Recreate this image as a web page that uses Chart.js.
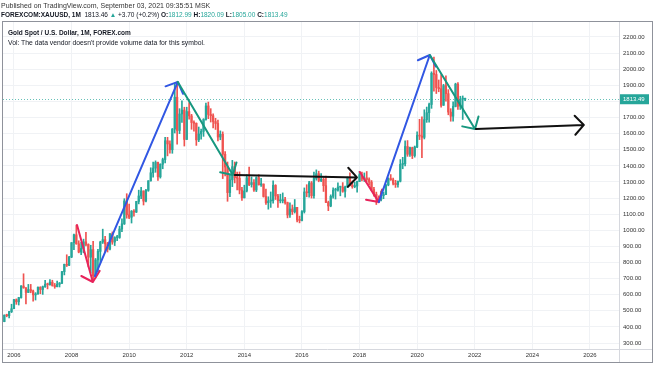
<!DOCTYPE html>
<html>
<head>
<meta charset="utf-8">
<script src="https://cdn.jsdelivr.net/npm/chart.js@4.4.1/dist/chart.umd.min.js"></script>
<style>
  html, body { margin: 0; padding: 0; background: #fff; }
  #wrap { position: relative; width: 654px; height: 366px; overflow: hidden; font-family: "Liberation Sans", Arial, sans-serif; color: #131722; }
  canvas { position: absolute; left: 0; top: 0; }
  .hdr { position: absolute; white-space: nowrap; }
  #pub { left: 1px; top: 2px; font-size: 7px; color: #333; }
  #sym { left: 1px; top: 11px; font-size: 6.5px; }
  #legend { left: 8px; top: 28px; font-size: 6.8px; line-height: 10px; }
  #legend b { font-size: 6.5px; }
  .up { color: #26a69a; }
</style>
</head>
<body>
<div id="wrap">
  <canvas id="chart" width="654" height="366"></canvas>
  <div class="hdr" id="pub">Published on TradingView.com, September 03, 2021 09:35:51 MSK</div>
  <div class="hdr" id="sym"><b>FOREXCOM:XAUUSD, 1M</b>&nbsp; 1813.46 <span class="up">▲</span> +3.70 (+0.2%) <b>O:</b><span class="up">1812.99</span> <b>H:</b><span class="up">1820.09</span> <b>L:</b><span class="up">1805.00</span> <b>C:</b><span class="up">1813.49</span></div>
  <div class="hdr" id="legend"><b>Gold Spot / U.S. Dollar, 1M, FOREX.com</b><br>Vol: The data vendor doesn't provide volume data for this symbol.</div>
</div>
<script>
// monthly candles, first one is Sep 2005
const startYear = 2005;
const startMonth = 9;

const opens = [
  433, 473, 470, 495,
  513, 569, 556, 582, 654, 643, 614, 632, 623, 599, 604, 646,
  632, 650, 665, 662, 678, 657, 650, 665, 672, 743, 789, 783,
  834, 923, 972, 916, 865, 887, 928, 912, 833, 880, 718, 816,
  869, 927, 942, 916, 883, 979, 927, 955, 955, 1008, 1040, 1182,
  1096, 1081, 1118, 1113, 1179, 1213, 1244, 1181, 1248, 1307, 1357, 1386,
  1421, 1332, 1410, 1439, 1556, 1536, 1500, 1628, 1826, 1620, 1722, 1746,
  1564, 1737, 1710, 1669, 1664, 1561, 1598, 1614, 1688, 1772, 1719, 1711,
  1675, 1663, 1579, 1596, 1472, 1393, 1234, 1313, 1395, 1327, 1323, 1250,
  1202, 1244, 1326, 1284, 1296, 1250, 1327, 1282, 1287, 1210, 1171, 1182,
  1184, 1279, 1213, 1183, 1183, 1190, 1172, 1095, 1132, 1115, 1142, 1064,
  1061, 1116, 1238, 1233, 1294, 1215, 1322, 1351, 1309, 1316, 1277, 1173,
  1151, 1211, 1249, 1249, 1268, 1268, 1242, 1269, 1322, 1280, 1271, 1275,
  1303, 1345, 1318, 1325, 1315, 1299, 1253, 1224, 1201, 1192, 1215, 1222,
  1282, 1321, 1313, 1292, 1284, 1305, 1409, 1413, 1520, 1472, 1513, 1464,
  1517, 1589, 1585, 1577, 1687, 1730, 1781, 1975, 1967, 1886, 1879, 1776,
  1898, 1848, 1734, 1708, 1769, 1907, 1770, 1814, 1812.99
];
const highs = [
  475, 479, 497, 541,
  571, 574, 584, 656, 730, 645, 664, 664, 628, 613, 649, 650,
  654, 690, 672, 694, 690, 670, 684, 676, 745, 790, 848, 838,
  924, 976, 1032, 935, 925, 945, 988, 916, 907, 932, 825, 882,
  932, 1007, 962, 925, 980, 990, 960, 969, 1025, 1071, 1196, 1227,
  1162, 1123, 1128, 1180, 1249, 1266, 1245, 1254, 1308, 1388, 1424, 1431,
  1424, 1413, 1448, 1577, 1577, 1556, 1632, 1913, 1921, 1755, 1803, 1764,
  1764, 1792, 1720, 1679, 1667, 1641, 1628, 1693, 1790, 1796, 1755, 1723,
  1695, 1684, 1617, 1611, 1488, 1424, 1348, 1434, 1424, 1361, 1362, 1267,
  1280, 1345, 1392, 1331, 1315, 1332, 1345, 1323, 1288, 1255, 1208, 1238,
  1307, 1283, 1223, 1224, 1232, 1205, 1175, 1170, 1157, 1191, 1142, 1088,
  1123, 1263, 1283, 1304, 1303, 1362, 1375, 1367, 1352, 1326, 1337, 1181,
  1220, 1264, 1261, 1295, 1270, 1296, 1274, 1331, 1357, 1306, 1299, 1306,
  1366, 1362, 1356, 1365, 1326, 1309, 1266, 1237, 1214, 1243, 1237, 1284,
  1326, 1346, 1324, 1310, 1306, 1439, 1453, 1555, 1557, 1517, 1516, 1523,
  1611, 1689, 1704, 1748, 1765, 1789, 1984, 2075, 1992, 1933, 1966, 1906,
  1959, 1873, 1755, 1798, 1913, 1917, 1832, 1834, 1820.09
];
const lows = [
  432, 463, 456, 489,
  513, 540, 536, 578, 640, 543, 613, 612, 560, 567, 604, 606,
  602, 645, 636, 660, 653, 640, 648, 648, 668, 723, 775, 780,
  830, 880, 913, 860, 849, 860, 903, 773, 735, 681, 705, 740,
  800, 918, 866, 865, 878, 913, 905, 935, 950, 992, 1036, 1075,
  1072, 1045, 1087, 1110, 1164, 1196, 1157, 1176, 1242, 1305, 1330, 1360,
  1309, 1324, 1382, 1418, 1462, 1478, 1478, 1604, 1535, 1600, 1670, 1523,
  1563, 1689, 1627, 1615, 1527, 1550, 1565, 1583, 1684, 1693, 1672, 1636,
  1626, 1555, 1562, 1321, 1338, 1180, 1208, 1271, 1294, 1251, 1226, 1185,
  1200, 1238, 1277, 1268, 1241, 1240, 1281, 1273, 1206, 1160, 1131, 1142,
  1168, 1191, 1142, 1170, 1170, 1162, 1077, 1080, 1098, 1107, 1052, 1046,
  1058, 1107, 1208, 1205, 1200, 1200, 1311, 1301, 1302, 1241, 1171, 1122,
  1146, 1200, 1194, 1243, 1214, 1236, 1205, 1265, 1276, 1261, 1264, 1237,
  1302, 1307, 1303, 1302, 1282, 1246, 1211, 1160, 1180, 1182, 1196, 1221,
  1276, 1310, 1281, 1266, 1267, 1300, 1382, 1400, 1459, 1459, 1445, 1454,
  1513, 1563, 1451, 1567, 1670, 1671, 1757, 1863, 1849, 1860, 1765, 1775,
  1802, 1717, 1677, 1678, 1766, 1751, 1750, 1688, 1805.00
];
const closes = [
  473, 470, 495, 513,
  569, 556, 582, 654, 643, 614, 632, 623, 599, 604, 646, 632,
  650, 665, 662, 678, 657, 650, 665, 672, 743, 789, 783, 834,
  923, 972, 916, 865, 887, 928, 912, 833, 880, 718, 816, 869,
  927, 942, 916, 883, 979, 927, 955, 955, 1008, 1040, 1182, 1096,
  1081, 1118, 1113, 1179, 1213, 1244, 1181, 1248, 1307, 1357, 1386, 1421,
  1332, 1410, 1439, 1556, 1536, 1500, 1628, 1826, 1620, 1722, 1746, 1564,
  1737, 1710, 1669, 1664, 1561, 1598, 1614, 1688, 1772, 1719, 1711, 1675,
  1663, 1579, 1596, 1472, 1393, 1234, 1313, 1395, 1327, 1323, 1250, 1202,
  1244, 1326, 1284, 1296, 1250, 1327, 1282, 1287, 1210, 1171, 1182, 1184,
  1279, 1213, 1183, 1183, 1190, 1172, 1095, 1132, 1115, 1142, 1064, 1061,
  1116, 1238, 1233, 1294, 1215, 1322, 1351, 1309, 1316, 1277, 1173, 1151,
  1211, 1249, 1249, 1268, 1268, 1242, 1269, 1322, 1280, 1271, 1275, 1303,
  1345, 1318, 1325, 1315, 1299, 1253, 1224, 1201, 1192, 1215, 1222, 1282,
  1321, 1313, 1292, 1284, 1305, 1409, 1413, 1520, 1472, 1513, 1464, 1517,
  1589, 1585, 1577, 1687, 1730, 1781, 1975, 1967, 1886, 1879, 1776, 1898,
  1848, 1734, 1708, 1769, 1907, 1770, 1814, 1814, 1813.49
];

const lastPrice = 1813.49;
const yearTicks = [2006, 2008, 2010, 2012, 2014, 2016, 2018, 2020, 2022, 2024, 2026];
const priceTicks = [300, 400, 500, 600, 700, 800, 900, 1000, 1100, 1200, 1300, 1400, 1500, 1600, 1700, 1800, 1900, 2000, 2100, 2200];

// hand drawn arrows, [year, price] pairs
const arrowStarts = [[2008.19, 1033], [2008.81, 716], [2011.69, 1921], [2013.67, 1343], [2018.01, 1362], [2018.67, 1175], [2020.44, 2088], [2022.04, 1629]];
const arrowEnds   = [[2008.74, 679], [2011.69, 1921], [2013.60, 1343], [2017.91, 1328], [2018.67, 1175], [2020.44, 2088], [2022.01, 1629], [2025.79, 1654]];
const arrowColors = ['#e8245b', '#3157e3', '#17977f', '#111111', '#e8245b', '#3157e3', '#17977f', '#111111'];

const UP = '#26a69a';
const DOWN = '#ef5350';

const xs = closes.map((c, i) => startYear + (startMonth - 1 + i) / 12);
const candleColor = ctx => closes[ctx.dataIndex] >= opens[ctx.dataIndex] ? UP : DOWN;

const arrowsPlugin = {
  id: 'arrows',
  afterDatasetsDraw(chart) {
    const { ctx, scales: { x, y } } = chart;
    ctx.save();
    ctx.lineWidth = 2;
    ctx.lineCap = 'round';
    ctx.lineJoin = 'round';
    arrowStarts.forEach((s, i) => {
      const e = arrowEnds[i];
      const x1 = x.getPixelForValue(s[0]), y1 = y.getPixelForValue(s[1]);
      const x2 = x.getPixelForValue(e[0]), y2 = y.getPixelForValue(e[1]);
      const back = Math.atan2(y1 - y2, x1 - x2);
      const head = 13, spread = 47 * Math.PI / 180;
      ctx.strokeStyle = arrowColors[i];
      ctx.beginPath();
      ctx.moveTo(x1, y1);
      ctx.lineTo(x2, y2);
      ctx.moveTo(x2 + head * Math.cos(back - spread), y2 + head * Math.sin(back - spread));
      ctx.lineTo(x2, y2);
      ctx.lineTo(x2 + head * Math.cos(back + spread), y2 + head * Math.sin(back + spread));
      ctx.stroke();
    });
    ctx.restore();
  }
};

const framePlugin = {
  id: 'frame',
  beforeDatasetsDraw(chart) {
    const { ctx, chartArea, scales: { y } } = chart;
    const py = Math.round(y.getPixelForValue(lastPrice)) + 0.5;
    ctx.save();
    ctx.strokeStyle = 'rgba(38,166,154,0.7)';
    ctx.lineWidth = 1;
    ctx.setLineDash([1, 2]);
    ctx.beginPath();
    ctx.moveTo(chartArea.left, py);
    ctx.lineTo(chartArea.right, py);
    ctx.stroke();
    ctx.restore();
  },
  afterDraw(chart) {
    const { ctx, chartArea, scales: { x, y } } = chart;
    ctx.save();
    ctx.lineWidth = 1;
    ctx.strokeStyle = '#d6d8de';
    ctx.beginPath();
    ctx.moveTo(chartArea.left, x.top + 0.5);
    ctx.lineTo(y.right, x.top + 0.5);
    ctx.moveTo(y.left + 0.5, chartArea.top);
    ctx.lineTo(y.left + 0.5, x.bottom);
    ctx.stroke();
    ctx.strokeStyle = '#8f929b';
    ctx.strokeRect(chartArea.left - 0.5, chartArea.top - 0.5, y.right - chartArea.left + 1, x.bottom - chartArea.top + 1);
    // last price label
    const py = y.getPixelForValue(lastPrice);
    ctx.fillStyle = UP;
    ctx.fillRect(y.left + 1, py - 5, 29, 10);
    ctx.fillStyle = '#ffffff';
    ctx.font = '6px "Liberation Sans", Arial, sans-serif';
    ctx.textBaseline = 'middle';
    ctx.fillText(lastPrice.toFixed(2), y.left + 4, py + 0.5);
    ctx.restore();
  }
};

new Chart(document.getElementById('chart'), {
  type: 'bar',
  data: {
    datasets: [
      {
        label: 'wick',
        data: xs.map((v, i) => ({ x: v, y: [lows[i], highs[i]] })),
        backgroundColor: candleColor,
        barThickness: 1,
        grouped: false,
        order: 1
      },
      {
        label: 'body',
        data: xs.map((v, i) => ({ x: v, y: [opens[i], closes[i]] })),
        backgroundColor: candleColor,
        barThickness: 1.6,
        minBarLength: 1,
        grouped: false,
        order: 0
      }
    ]
  },
  options: {
    responsive: false,
    animation: false,
    layout: { padding: { left: 3, top: 22, right: 2, bottom: 4 } },
    plugins: { legend: { display: false }, tooltip: { enabled: false } },
    scales: {
      x: {
        type: 'linear',
        min: 2005.62,
        max: 2027.01,
        offset: false,
        afterFit: s => { s.height = 13; },
        afterBuildTicks: s => { s.ticks = yearTicks.map(v => ({ value: v })); },
        grid: { color: '#f0f2f5', offset: false, drawTicks: false },
        border: { display: false },
        ticks: {
          autoSkip: false, maxRotation: 0, padding: 3,
          color: '#333', font: { size: 6, family: '"Liberation Sans", Arial, sans-serif' },
          callback: v => String(v)
        }
      },
      y: {
        position: 'right',
        min: 263,
        max: 2293,
        afterFit: s => { s.width = 33; },
        afterBuildTicks: s => { s.ticks = priceTicks.map(v => ({ value: v })); },
        grid: { color: '#f0f2f5', drawTicks: false },
        border: { display: false },
        ticks: {
          padding: 4,
          color: '#333', font: { size: 6, family: '"Liberation Sans", Arial, sans-serif' },
          callback: v => v.toFixed(2)
        }
      }
    }
  },
  plugins: [framePlugin, arrowsPlugin]
});
</script>
</body>
</html>
